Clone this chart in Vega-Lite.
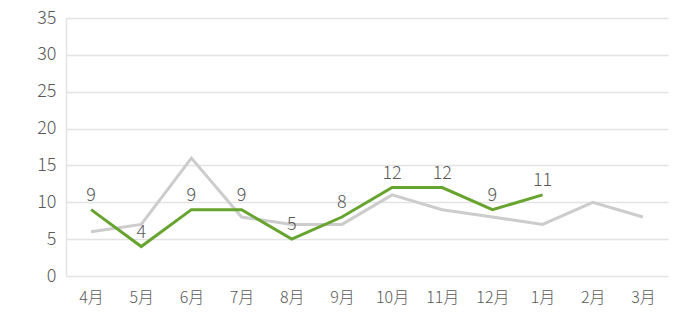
{
  "$schema": "https://vega.github.io/schema/vega-lite/v6.json",
  "width": 602,
  "height": 258,
  "autosize": "none",
  "padding": {"left": 66, "top": 18, "right": 17, "bottom": 47},
  "background": "white",
  "config": {"view": {"stroke": null}, "font": "Noto Sans CJK JP"},
  "data": {"values": [
    {"month": "4月", "series": "前年", "value": 6},
    {"month": "5月", "series": "前年", "value": 7},
    {"month": "6月", "series": "前年", "value": 16},
    {"month": "7月", "series": "前年", "value": 8},
    {"month": "8月", "series": "前年", "value": 7},
    {"month": "9月", "series": "前年", "value": 7},
    {"month": "10月", "series": "前年", "value": 11},
    {"month": "11月", "series": "前年", "value": 9},
    {"month": "12月", "series": "前年", "value": 8},
    {"month": "1月", "series": "前年", "value": 7},
    {"month": "2月", "series": "前年", "value": 10},
    {"month": "3月", "series": "前年", "value": 8},
    {"month": "4月", "series": "今年", "value": 9},
    {"month": "5月", "series": "今年", "value": 4},
    {"month": "6月", "series": "今年", "value": 9},
    {"month": "7月", "series": "今年", "value": 9},
    {"month": "8月", "series": "今年", "value": 5},
    {"month": "9月", "series": "今年", "value": 8},
    {"month": "10月", "series": "今年", "value": 12},
    {"month": "11月", "series": "今年", "value": 12},
    {"month": "12月", "series": "今年", "value": 9},
    {"month": "1月", "series": "今年", "value": 11}
  ]},
  "encoding": {
    "x": {
      "field": "month", "type": "ordinal",
      "sort": ["4月","5月","6月","7月","8月","9月","10月","11月","12月","1月","2月","3月"],
      "scale": {"type": "point", "padding": 0.5},
      "axis": {"title": null, "labelAngle": 0, "domain": false, "ticks": false, "grid": false,
               "labelFontSize": 16, "labelFontWeight": 300, "labelColor": "#595959", "labelPadding": 13}
    },
    "y": {
      "field": "value", "type": "quantitative",
      "scale": {"domain": [0, 35]},
      "axis": {"title": null, "values": [0,5,10,15,20,25,30,35], "ticks": false,
               "domainColor": "#e3e3e3", "domainWidth": 1.5, "gridColor": "#e3e3e3", "gridWidth": 1.5,
               "labelFontSize": 18, "labelFontWeight": 300, "labelColor": "#595959", "labelPadding": 10}
    }
  },
  "layer": [
    {
      "mark": {"type": "line", "strokeWidth": 3},
      "encoding": {
        "color": {"field": "series", "type": "nominal",
                  "scale": {"domain": ["前年", "今年"], "range": ["#cccccc", "#67a32f"]},
                  "legend": null},
        "order": {"field": "series", "sort": "descending"}
      }
    },
    {
      "transform": [{"filter": "datum.series === '今年'"}],
      "mark": {"type": "text", "dy": -14, "fontSize": 18, "fontWeight": 300, "color": "#595959"},
      "encoding": {"text": {"field": "value", "type": "quantitative"}}
    }
  ]
}
